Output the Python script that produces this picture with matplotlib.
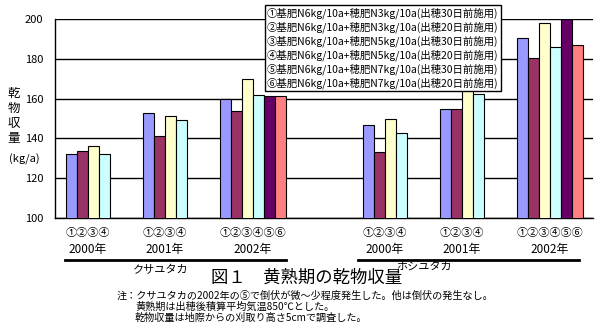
import matplotlib.pyplot as plt
import matplotlib.transforms as mtransforms
import numpy as np

plt.rcParams['font.family'] = ['Noto Sans CJK JP', 'DejaVu Sans']

# data (kg/a), None = not tested
groups = ['2000年', '2001年', '2002年', '2000年', '2001年', '2002年']
group_marks = ['①②③④', '①②③④', '①②③④⑤⑥', '①②③④', '①②③④', '①②③④⑤⑥']
varieties = ['クサユタカ', 'ホシユタカ']
s1 = [132, 153, 160, 146.5, 155, 190.5]
s2 = [133.5, 141, 154, 133, 155, 180.5]
s3 = [136, 151.5, 170, 149.5, 167.5, 198]
s4 = [132, 149, 162, 142.5, 162.5, 186]
s5 = [None, None, 161.5, None, None, 200]
s6 = [None, None, 161.5, None, None, 187]
series = [s1, s2, s3, s4, s5, s6]
labels = ['①基肥N6kg/10a+穂肥N3kg/10a(出穂30日前施用)',
          '②基肥N6kg/10a+穂肥N3kg/10a(出穂20日前施用)',
          '③基肥N6kg/10a+穂肥N5kg/10a(出穂30日前施用)',
          '④基肥N6kg/10a+穂肥N5kg/10a(出穂20日前施用)',
          '⑤基肥N6kg/10a+穂肥N7kg/10a(出穂30日前施用)',
          '⑥基肥N6kg/10a+穂肥N7kg/10a(出穂20日前施用)']
colors = ['#9999FF', '#993366', '#FFFFCC', '#CCFFFF', '#660066', '#FF8080']
notes = ['注：クサユタカの2002年の⑤で倒伏が微～少程度発生した。他は倒伏の発生なし。',
         '黄熟期は出穂後積算平均気温850℃とした。',
         '乾物収量は地際からの刈取り高さ5cmで調査した。']

W, H = 605, 329
fig = plt.figure(figsize=(W / 100, H / 100), dpi=100)
ax = fig.add_axes([55 / W, 1 - 218 / H, 538 / W, 199 / H])

pos = np.array([0, 1, 2, 3.857, 4.857, 5.857])
bw = 1 / 7
handles = []
for j, vals in enumerate(series):
    xs = [p + (j - 2.5) * bw for p, v in zip(pos, vals) if v is not None]
    ys = [v for v in vals if v is not None]
    b = ax.bar(xs, ys, width=bw, color=colors[j], edgecolor='black', linewidth=0.8, zorder=3)
    handles.append(b)

ax.set_xlim(-0.571, 6.416)
ax.set_ylim(100, 200)
ax.set_yticks([100, 120, 140, 160, 180, 200])
ax.yaxis.grid(True, color='black', linewidth=1)
ax.set_axisbelow(True)
ax.set_xticks([])
for s in ['top', 'right']:
    ax.spines[s].set_visible(False)
ax.spines['left'].set_linewidth(1)
ax.spines['bottom'].set_linewidth(1)
ax.tick_params(axis='y', length=0, pad=8.5, labelsize=8)

# y label, stacked
for k, ch in enumerate('乾物収量'):
    fig.text(14 / W, 1 - (93 + k * 15.3) / H, ch, ha='center', va='center', fontsize=9)
fig.text(24 / W, 1 - 159 / H, '(kg/a)', ha='center', va='center', fontsize=8)

# group labels under the bars
tr = mtransforms.blended_transform_factory(ax.transData, fig.transFigure)
for i, p in enumerate(pos):
    n = len([s for s in series if s[i] is not None])
    cx = p + (n / 2 - 3) * bw
    ax.text(cx, 1 - 233 / H, group_marks[i], transform=tr, ha='center', va='center', fontsize=8)
    ax.text(cx, 1 - 249 / H, groups[i], transform=tr, ha='center', va='center', fontsize=8.5)

for (x0, x1), name, xc, yc in zip([(65, 286), (358, 579)], varieties, [161, 424], [270, 267]):
    fig.add_artist(plt.Line2D([x0 / W, x1 / W], [1 - 260 / H, 1 - 260 / H], color='black', linewidth=2))
    fig.text(xc / W, 1 - yc / H, name, ha='center', va='center', fontsize=8)

fig.text(307 / W, 1 - 278 / H, '図１　黄熟期の乾物収量', ha='center', va='center', fontsize=12.5)
fig.text(117 / W, 1 - 296 / H, notes[0], ha='left', va='center', fontsize=7.3)
fig.text(135 / W, 1 - 307 / H, notes[1], ha='left', va='center', fontsize=7.3)
fig.text(135 / W, 1 - 318 / H, notes[2], ha='left', va='center', fontsize=7.3)

leg = fig.legend([h[0] for h in handles], labels, loc='upper left',
                 bbox_to_anchor=(265 / W, 1 - 5 / H), fontsize=7.5,
                 handlelength=0, handleheight=0, handletextpad=0,
                 labelspacing=0.25, borderpad=0.2, borderaxespad=0,
                 fancybox=False, edgecolor='black', framealpha=1)
leg.get_frame().set_linewidth(1)
for h in leg.legend_handles:
    h.set_visible(False)

fig.savefig('out.png', dpi=100)
